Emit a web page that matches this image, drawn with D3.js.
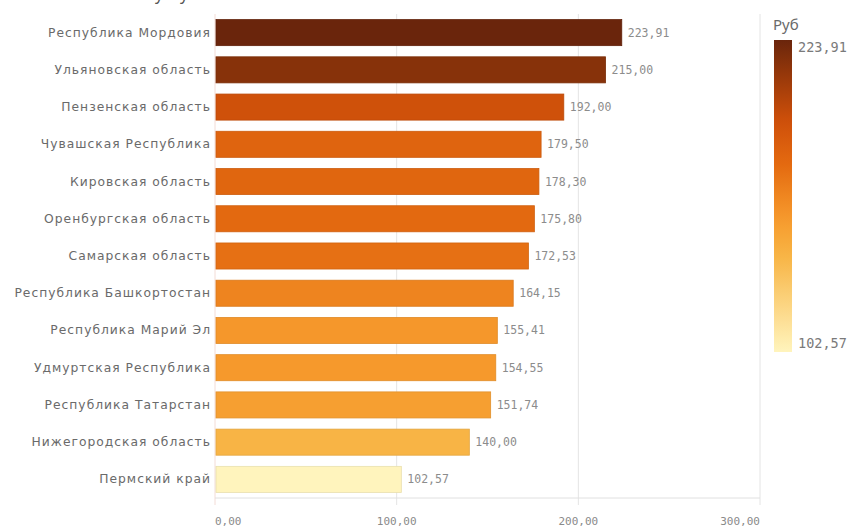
<!DOCTYPE html>
<html><head><meta charset="utf-8">
<script src="https://cdn.jsdelivr.net/npm/d3@7/dist/d3.min.js"></script>
<style>body{margin:0;background:#fff}svg{display:block}</style>
</head><body><svg id="c" width="855" height="531"></svg>
<script>
const categories = ["Республика Мордовия","Ульяновская область","Пензенская область","Чувашская Республика","Кировская область","Оренбургская область","Самарская область","Республика Башкортостан","Республика Марий Эл","Удмуртская Республика","Республика Татарстан","Нижегородская область","Пермский край"];
const values = [223.91,215.00,192.00,179.50,178.30,175.80,172.53,164.15,155.41,154.55,151.74,140.00,102.57];
const ticks = [0,100,200,300];
const legendTitle = "Руб";

(function(){
const fmt = v => v.toFixed(2).replace(".", ",");
const svg = d3.select("#c");
const pL = 215, pR = 760, pT = 14, pB = 498;
const x = d3.scaleLinear().domain([0,300]).range([pL,pR]);
const y = d3.scaleBand().domain(categories).range([pT,pB]).paddingInner(0.3).paddingOuter(0.15);
const vmin = d3.min(values), vmax = d3.max(values);
const colorT = d3.scaleLinear()
  .domain([0,0.31,0.43,0.6,0.74,0.92,1])
  .range(["#fff4bd","#f8b444","#f6992c","#e46a10","#cf500a","#8a330a","#6a250c"])
  .interpolate(d3.interpolateRgb);
const color = v => colorT((v - vmin)/(vmax - vmin));

svg.append("g").selectAll("line").data(ticks).join("line")
  .attr("x1",d=>x(d)).attr("x2",d=>x(d)).attr("y1",pT).attr("y2",pB+7)
  .attr("stroke",d=>d===0?"#f3dcd6":"#e4e4e4").attr("stroke-width",1);
svg.append("line").attr("x1",pL).attr("x2",pR).attr("y1",pB).attr("y2",pB)
  .attr("stroke","#e0e0e0");

svg.append("g").selectAll("rect").data(values).join("rect")
  .attr("x",x(0)+1).attr("y",(d,i)=>y(categories[i]))
  .attr("width",d=>x(d)-x(0)-1).attr("height",y.bandwidth())
  .attr("fill",d=>color(d)).attr("stroke",d=>d3.color(color(d)).darker(0.25)).attr("stroke-width",0.8);

svg.append("g").selectAll("text").data(values).join("text")
  .attr("x",d=>x(d)+6).attr("y",(d,i)=>y(categories[i])+y.bandwidth()/2+4)
  .attr("font-family","DejaVu Sans Mono").attr("font-size",11.5).attr("fill","#8c8c8c")
  .text(d=>fmt(d));

svg.append("g").selectAll("text").data(categories).join("text")
  .attr("x",pL-4).attr("y",d=>y(d)+y.bandwidth()/2+4)
  .attr("text-anchor","end").attr("font-family","DejaVu Sans").attr("font-size",12.3)
  .attr("letter-spacing",1.0)
  .attr("fill","#6a6a6a").text(d=>d);

svg.append("g").selectAll("text").data(ticks).join("text")
  .attr("x",d=>x(d)).attr("y",525)
  .attr("text-anchor",(d,i)=>i===0?"start":(i===ticks.length-1?"end":"middle"))
  .attr("font-family","DejaVu Sans Mono").attr("font-size",11).attr("fill","#8a8a8a")
  .text(d=>fmt(d));

svg.append("text").attr("x",68).attr("y",0).attr("font-family","Noto Sans").attr("font-size",16)
  .attr("fill","#555").text("Стоимость услуг");

const defs = svg.append("defs");
const grad = defs.append("linearGradient").attr("id","lg").attr("x1",0).attr("x2",0).attr("y1",0).attr("y2",1);
d3.range(0,1.0001,0.05).forEach(t=>grad.append("stop").attr("offset",t).attr("stop-color",colorT(1-t)));
svg.append("text").attr("x",773).attr("y",30).attr("font-family","Noto Sans").attr("font-size",15)
  .attr("fill","#6a6a6a").text(legendTitle);
svg.append("rect").attr("x",774).attr("y",40).attr("width",18).attr("height",312).attr("fill","url(#lg)");
svg.append("text").attr("x",798).attr("y",52).attr("font-family","DejaVu Sans Mono").attr("font-size",13.5)
  .attr("fill","#7a7a7a").text(fmt(vmax));
svg.append("text").attr("x",798).attr("y",348).attr("font-family","DejaVu Sans Mono").attr("font-size",13.5)
  .attr("fill","#7a7a7a").text(fmt(vmin));
})();
</script></body></html>
